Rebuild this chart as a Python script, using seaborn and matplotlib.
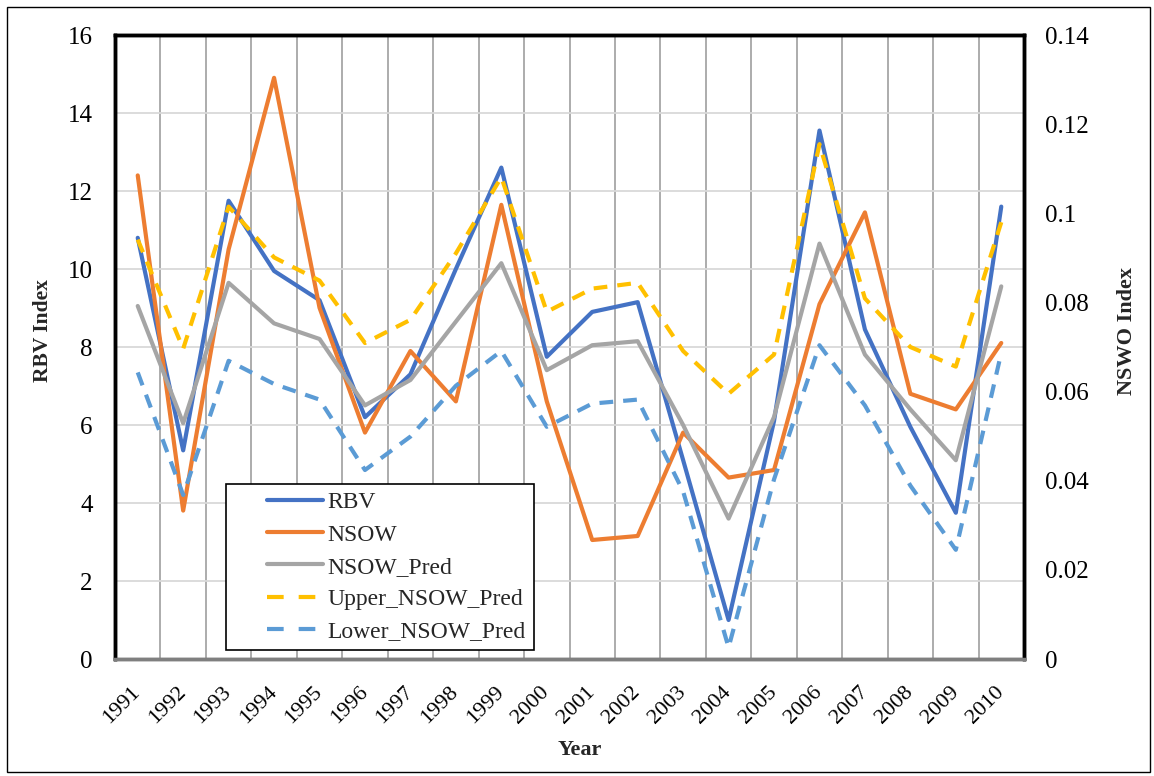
import numpy as np
import pandas as pd
import matplotlib
matplotlib.use("Agg")
import matplotlib.pyplot as plt
import seaborn as sns
from matplotlib.lines import Line2D
from matplotlib.patches import Rectangle
from matplotlib.legend_handler import HandlerBase

years = [str(y) for y in range(1991, 2011)]

rbv = [10.8, 5.35, 11.75, 9.95, 9.2, 6.2, 7.3, 10.0, 12.6, 7.75,
       8.9, 9.15, 5.1, 1.0, 6.1, 13.55, 8.45, 5.95, 3.75, 11.6]
nsow = [0.1085, 0.0333, 0.0919, 0.1304, 0.0788, 0.0508, 0.0691, 0.0578, 0.1019, 0.0578,
        0.0267, 0.0276, 0.0508, 0.0407, 0.0424, 0.0796, 0.1002, 0.0595, 0.0560, 0.0709]
nsow_pred = [0.0792, 0.0529, 0.0844, 0.0753, 0.0718, 0.0569, 0.0626, 0.0757, 0.0888, 0.0648,
             0.0704, 0.0713, 0.0525, 0.0315, 0.0543, 0.0932, 0.0683, 0.0560, 0.0446, 0.0836]
upper_pred = [0.0941, 0.0696, 0.1015, 0.0901, 0.0849, 0.0709, 0.0761, 0.0910, 0.1081, 0.0779,
              0.0831, 0.0844, 0.0691, 0.0595, 0.0683, 0.1155, 0.0809, 0.0700, 0.0656, 0.0980]
lower_pred = [0.0643, 0.0368, 0.0669, 0.0617, 0.0582, 0.0424, 0.0499, 0.0613, 0.0691, 0.0521,
              0.0573, 0.0582, 0.0376, 0.0026, 0.0403, 0.0704, 0.0569, 0.0389, 0.0245, 0.0687]

left_ticks = [0, 2, 4, 6, 8, 10, 12, 14, 16]
right_ticks = [0, 0.02, 0.04, 0.06, 0.08, 0.1, 0.12, 0.14]
right_tick_labels = ["0", "0.02", "0.04", "0.06", "0.08", "0.1", "0.12", "0.14"]

sns.set_theme(style="white")
plt.rcParams["font.family"] = ["Liberation Serif", "DejaVu Serif"]

c_rbv = "#4472C4"
c_nsow = "#ED7D31"
c_pred = "#A5A5A5"
c_up = "#FFC000"
c_low = "#5B9BD5"

fig = plt.figure(figsize=(11.54, 7.76), dpi=100)
ax = fig.add_axes([115 / 1154, 1 - 659 / 776, (1024 - 115) / 1154, (659 - 35) / 776])
ax2 = ax.twinx()

x = np.arange(len(years))
df = pd.DataFrame({"x": x, "RBV": rbv, "NSOW": nsow, "NSOW_Pred": nsow_pred,
                   "Upper_NSOW_Pred": upper_pred, "Lower_NSOW_Pred": lower_pred})

lw = 3.0
dash = (3.3, 2.4)
sns.lineplot(data=df, x="x", y="RBV", ax=ax, color=c_rbv, lw=lw, legend=False)
sns.lineplot(data=df, x="x", y="NSOW", ax=ax2, color=c_nsow, lw=lw, legend=False)
sns.lineplot(data=df, x="x", y="NSOW_Pred", ax=ax2, color=c_pred, lw=lw, legend=False)
sns.lineplot(data=df, x="x", y="Upper_NSOW_Pred", ax=ax2, color=c_up, lw=lw, legend=False)
sns.lineplot(data=df, x="x", y="Lower_NSOW_Pred", ax=ax2, color=c_low, lw=lw, legend=False)
for ln in ax2.lines[2:4]:
    ln.set_dashes(dash)
    ln.set_dash_capstyle("butt")

ax.set_xlim(-0.5, len(years) - 0.5)
ax.set_ylim(0, 16)
ax2.set_ylim(0, 0.14)

ax.set_xticks(x)
ax.set_xticklabels(years, rotation=45, ha="right", va="center", rotation_mode="anchor", fontsize=16)
ax.set_xticks(np.arange(0.5, len(years) - 1, 1.0), minor=True)
ax.set_yticks(left_ticks)
ax.set_yticklabels([str(t) for t in left_ticks], fontsize=18)
ax2.set_yticks(right_ticks)
ax2.set_yticklabels(right_tick_labels, fontsize=18)

ax.tick_params(axis="both", which="both", length=0, pad=16, colors="black")
ax.tick_params(axis="x", pad=22)
ax2.tick_params(axis="y", length=0, pad=15, colors="black")

ax.grid(False)
ax2.grid(False)
ax.yaxis.grid(True, color="#d9d9d9", lw=1.3)
ax.xaxis.grid(True, which="minor", color="#a6a6a6", lw=1.3)

ax.set_xlabel("Year", fontsize=16, fontweight="bold")
ax.set_ylabel("RBV Index", fontsize=15.5, fontweight="bold")
ax2.set_ylabel("NSWO Index", fontsize=16, fontweight="bold")
ax.xaxis.set_label_coords(0.5115, -0.13)
ax.yaxis.set_label_coords(-0.068, 0.526)
ax2.yaxis.set_label_coords(1.102, 0.526)

for a in (ax, ax2):
    for s in ("left", "right", "top"):
        a.spines[s].set_color("black")
        a.spines[s].set_linewidth(2.5)
    a.spines["bottom"].set_color("#7f7f7f")
    a.spines["bottom"].set_linewidth(2.5)


class PaddedLine(HandlerBase):
    def create_artists(self, legend, orig_handle, xdescent, ydescent, width, height, fontsize, trans):
        y = (height - ydescent) / 2.0
        x0 = -xdescent + width * 0.375
        x1 = -xdescent + width
        line = Line2D([x0, x1], [y, y])
        self.update_prop(line, orig_handle, legend)
        line.set_transform(trans)
        return [line]


handles = [
    Line2D([], [], color=c_rbv, lw=lw),
    Line2D([], [], color=c_nsow, lw=lw),
    Line2D([], [], color=c_pred, lw=lw),
    Line2D([], [], color=c_up, lw=lw, dashes=(4.0, 3.6), dash_capstyle="butt"),
    Line2D([], [], color=c_low, lw=lw, dashes=(4.0, 3.6), dash_capstyle="butt"),
]
labels = ["RBV", "NSOW", "NSOW_Pred", "Upper_NSOW_Pred", "Lower_NSOW_Pred"]
leg = ax2.legend(handles, labels, loc="lower left", bbox_to_anchor=(0.122, 0.014),
                 borderaxespad=0, fontsize=17, frameon=True, fancybox=False,
                 edgecolor="black", framealpha=1, handlelength=3.75, handletextpad=0.2,
                 labelspacing=0.45, borderpad=0.35,
                 handler_map={Line2D: PaddedLine()})
leg.get_frame().set_linewidth(1.2)
leg.set_zorder(10)

fig.patches.append(Rectangle((7 / 1154, 4 / 776), 1143 / 1154, 765 / 776, transform=fig.transFigure,
                             fill=False, edgecolor="black", lw=1.0))

fig.savefig("out.png", dpi=100)
